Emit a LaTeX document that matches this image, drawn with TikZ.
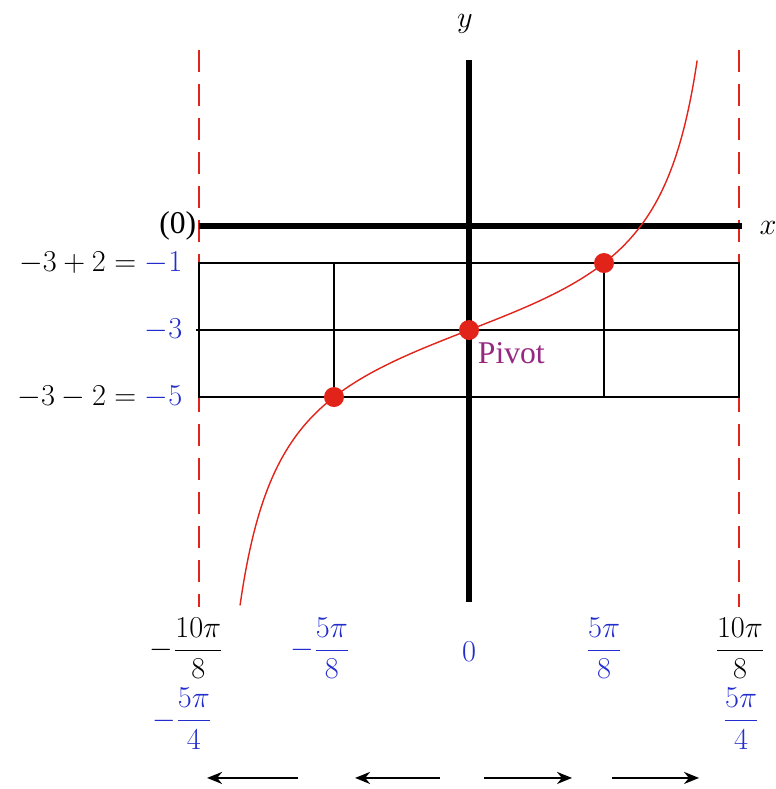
\documentclass[tikz,border=0pt]{standalone}
\usepackage{amsmath}
\usepackage{fontspec}
\setmainfont{Liberation Serif}
\usetikzlibrary{arrows.meta}
\definecolor{lblblue}{RGB}{35,45,205}
\definecolor{asyred}{RGB}{225,35,25}
\definecolor{pivpurple}{RGB}{150,40,130}
\tikzset{
  asym/.style={asyred, line width=0.8pt, dash pattern=on 0.44cm off 0.24cm},
  gridln/.style={line width=1.1pt},
  axisln/.style={line width=0.12cm},
  fraclbl/.style={inner sep=0pt},
  movearr/.style={-{Stealth[length=0.3cm,width=0.24cm]}, line width=1.2pt},
}
\begin{document}
\begin{tikzpicture}[x=2.7cm, y=0.67cm, font=\fontsize{18}{21}\selectfont]
    \useasboundingbox (-3.474,-16.70) rectangle (2.267,6.851);
    % asymptotes
    \draw[asym] (-2,5.36) -- (-2,-11.27);
    \draw[asym] (2,5.36) -- (2,-11.27);
    % grid
    \draw[gridln] (-2,-1) rectangle (2,-5);
    \draw[gridln] (-2.02,-3) -- (2,-3);
    \draw[gridln] (-1,-1) -- (-1,-5);
    \draw[gridln] (1,-1) -- (1,-5);
    % axes
    \draw[axisln] (-2,0.1) -- (2.02,0.1);
    \draw[axisln] (0,5.06) -- (0,-11.12);
    \node (xlbl) at (2.215,0.05) {$x$};
    \node (ylbl) at (-0.03,6.15) {$y$};
    % curve and points
    \draw[asyred, line width=0.8pt, domain=-1.696:1.69, samples=200, smooth]
        plot (\x, {2*tan(45*\x)-3});
    \fill[asyred] (-1,-5) circle[radius=0.2cm];
    \fill[asyred] (0,-3) circle[radius=0.2cm];
    \fill[asyred] (1,-1) circle[radius=0.2cm];
    \node[anchor=west, text=pivpurple] (pivot) at (0.02,-3.7) {Pivot};
    % left labels
    \node[anchor=east] (zero) at (-1.975,0.1) {(0)};
    \node[anchor=east] (lone) at (-2.078,-1) {$-3+2=\textcolor{lblblue}{-1}$};
    \node[anchor=east, text=lblblue] (lthree) at (-2.078,-3) {$-3$};
    \node[anchor=east] (lfive) at (-2.078,-5) {$-3-2=\textcolor{lblblue}{-5}$};
    % bottom labels
    \node[fraclbl] (bl) at (-2.093,-12.5) {$-\dfrac{10\pi}{8}$};
    \node[fraclbl, text=lblblue] (bml) at (-1.104,-12.5) {$-\dfrac{5\pi}{8}$};
    \node[fraclbl, text=lblblue] (bm) at (0,-12.6) {$0$};
    \node[fraclbl, text=lblblue] (bmr) at (1,-12.5) {$\dfrac{5\pi}{8}$};
    \node[fraclbl] (br) at (2.007,-12.5) {$\dfrac{10\pi}{8}$};
    \node[fraclbl, text=lblblue] (bl2) at (-2.126,-14.6) {$-\dfrac{5\pi}{4}$};
    \node[fraclbl, text=lblblue] (br2) at (2.015,-14.6) {$\dfrac{5\pi}{4}$};
    % direction arrows
    \coordinate (a1s) at (-1.267,-16.37); \coordinate (a1e) at (-1.94,-16.37);
    \coordinate (a2s) at (-0.215,-16.37); \coordinate (a2e) at (-0.844,-16.37);
    \coordinate (a3s) at (0.111,-16.37);  \coordinate (a3e) at (0.763,-16.37);
    \coordinate (a4s) at (1.059,-16.37);  \coordinate (a4e) at (1.704,-16.37);
    \draw[movearr] (a1s) -- (a1e);
    \draw[movearr] (a2s) -- (a2e);
    \draw[movearr] (a3s) -- (a3e);
    \draw[movearr] (a4s) -- (a4e);
\end{tikzpicture}
\end{document}
